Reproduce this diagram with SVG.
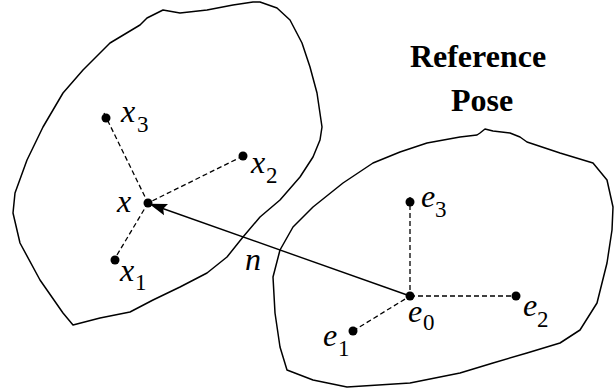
<svg xmlns="http://www.w3.org/2000/svg" width="616" height="390" viewBox="0 0 616 390">
<style>
.blob{fill:none;stroke:#000;stroke-width:1.5;stroke-linejoin:round}
.dash{stroke:#000;stroke-width:1.3;stroke-dasharray:5 3;fill:none}
.dot{fill:#000}
text{font-family:'Liberation Serif','Tinos','DejaVu Serif','Times New Roman',serif;fill:#000}
.lbl{font-style:italic;font-size:32px}
.sub{font-size:23px}
.title{font-weight:bold;font-size:32px;text-anchor:middle}
</style>
<defs>
<marker id="ah" markerWidth="20" markerHeight="14" refX="17" refY="7" orient="auto" markerUnits="userSpaceOnUse">
<path d="M0,1 L18,7 L0,13 L3,7 Z" fill="#000"/>
</marker>
</defs>
<g id="body-current">
<polygon class="blob" points="253,2 260,2 277,8 290,20 302,43 310,67 317,93 322,127 320,140 313,157 300,177 280,200 260,217 243,237 227,257 207,273 180,287 153,300 130,312 100,318 73,325 63,313 40,280 20,243 13,213 15,193 27,160 43,127 63,93 83,70 110,43 140,25 147,18 163,10 180,13 207,10 233,5"/>
</g>
<g id="body-reference">
<polygon class="blob" points="480,133 485,129 493,131 510,133 520,137 527,142 560,153 593,163 607,180 613,207 612,230 607,263 597,303 580,330 560,343 527,353 493,363 460,373 410,383 347,387 313,380 287,370 280,347 275,313 273,277 280,250 293,227 313,207 343,183 373,163 400,152 427,143 460,137 477,135"/>
</g>
<g id="connectors">
<line class="dash" x1="104" y1="113" x2="148" y2="203"/>
<line class="dash" x1="243" y1="156" x2="148" y2="203"/>
<line class="dash" x1="117" y1="255" x2="148" y2="203"/>
<line class="dash" x1="410" y1="197" x2="410" y2="296"/>
<line class="dash" x1="410" y1="296" x2="516" y2="296"/>
<line class="dash" x1="353" y1="331" x2="410" y2="296"/>
<line x1="410" y1="296" x2="150" y2="204" stroke="#000" stroke-width="1.4" marker-end="url(#ah)"/>
</g>
<g id="title">
<text class="title" x="478" y="67">Reference</text>
<text class="title" x="482" y="111">Pose</text>
</g>
<g id="pt-x3"><circle class="dot" cx="106" cy="118" r="4.5"/><text class="lbl" x="121" y="122">x</text><text class="sub" x="137" y="132">3</text></g>
<g id="pt-x2"><circle class="dot" cx="243" cy="156" r="4.5"/><text class="lbl" x="251" y="173">x</text><text class="sub" x="266" y="183">2</text></g>
<g id="pt-x"><circle class="dot" cx="148" cy="203" r="4.5"/><text class="lbl" x="117" y="212">x</text></g>
<g id="pt-x1"><circle class="dot" cx="115" cy="260" r="4.5"/><text class="lbl" x="120" y="281">x</text><text class="sub" x="135" y="290">1</text></g>
<g id="lbl-n"><text class="lbl" x="245" y="270">n</text></g>
<g id="pt-e3"><circle class="dot" cx="410" cy="202" r="4.5"/><text class="lbl" x="421" y="207">e</text><text class="sub" x="435" y="217">3</text></g>
<g id="pt-e0"><circle class="dot" cx="410" cy="296" r="4.5"/><text class="lbl" x="408" y="322">e</text><text class="sub" x="423" y="330">0</text></g>
<g id="pt-e2"><circle class="dot" cx="516" cy="296" r="4.5"/><text class="lbl" x="523" y="316">e</text><text class="sub" x="537" y="327">2</text></g>
<g id="pt-e1"><circle class="dot" cx="353" cy="331" r="4.5"/><text class="lbl" x="323" y="346">e</text><text class="sub" x="338" y="356">1</text></g>
</svg>
